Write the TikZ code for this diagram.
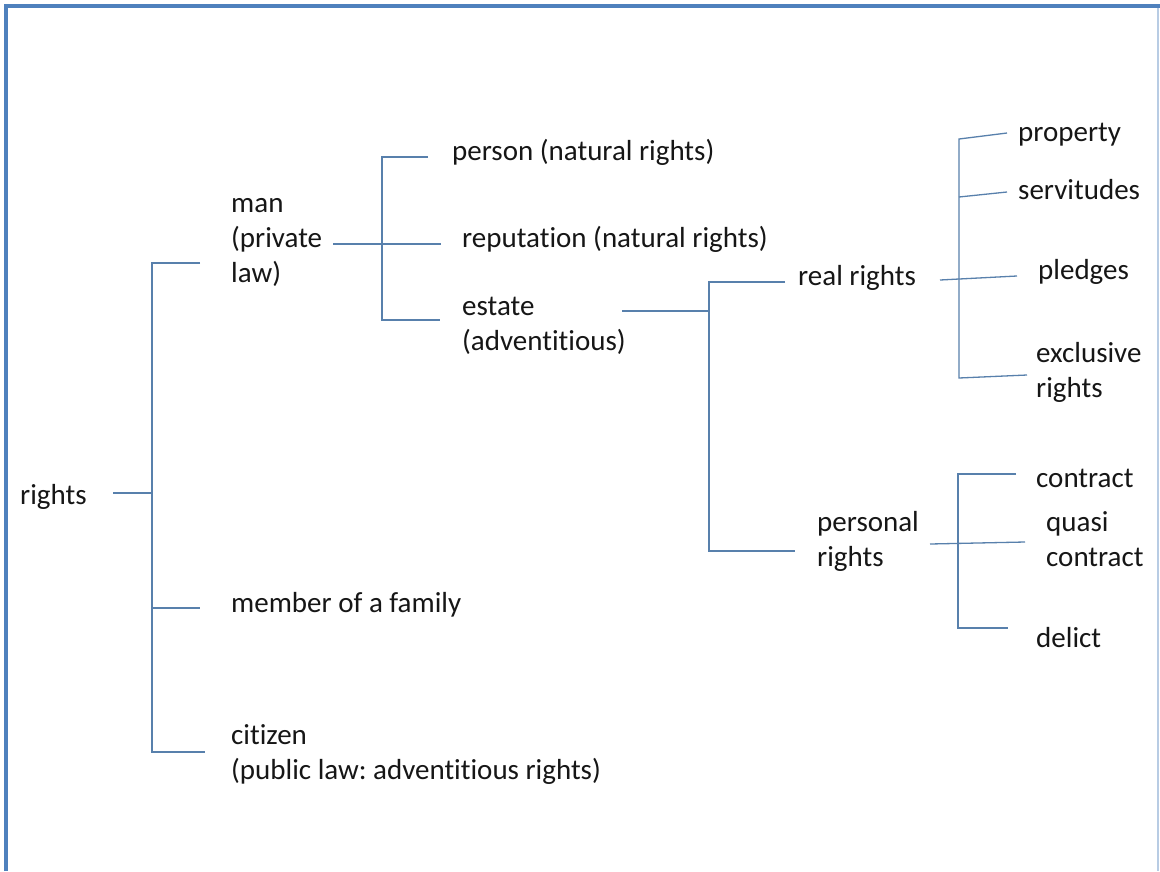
\documentclass[tikz,border=0pt]{standalone}
\usepackage{fontspec}
\setmainfont{Carlito}[Ligatures=CommonOff]
\definecolor{linkcol}{RGB}{88,128,172}
\definecolor{framecol}{RGB}{79,129,189}
\definecolor{framelight}{RGB}{184,204,228}
\definecolor{txtcol}{RGB}{22,22,22}
\frenchspacing
\begin{document}
\begin{tikzpicture}[x=1pt,y=-1pt,
  lbl/.style={anchor=west, inner sep=0pt, align=left, text=txtcol,
    font=\fontsize{29}{35}\selectfont,
    execute at begin node=\strut, execute at end node=\strut},
  link/.style={draw=linkcol, line width=1.3pt}]
\useasboundingbox (0,0) rectangle (1160,871);
\fill[white] (0,0) rectangle (1160,871);
% frame
\draw[framecol, line width=3.5pt] (6,871) -- (6,6) -- (1160,6);
\draw[framelight, line width=2.5pt] (1158,8) -- (1158,871);

% labels
\node[lbl] (rights) at (20,497) {rights};
\node[lbl] (man) at (231,246) {man\\(private\\law)};
\node[lbl] (member) at (231,605) {member of a family};
\node[lbl] (citizen) at (231,757) {citizen\\(public law: adventitious rights)};
\node[lbl] (person) at (452,153) {person (natural rights)};
\node[lbl] (reputation) at (462,240) {reputation (natural rights)};
\node[lbl] (estate) at (462,329) {estate\\(adventitious)};
\node[lbl] (real) at (798,278) {real rights};
\node[lbl] (personal) at (817,544) {personal\\rights};
\node[lbl] (property) at (1018,134) {property};
\node[lbl] (servitudes) at (1018,192) {servitudes};
\node[lbl] (pledges) at (1038,272) {pledges};
\node[lbl] (exclusive) at (1036,375) {exclusive\\rights};
\node[lbl] (contract) at (1036,480) {contract};
\node[lbl] (quasi) at (1046,544) {quasi\\contract};
\node[lbl] (delict) at (1036,640) {delict};

% junction coordinates
\coordinate (a0) at (113,493);
\coordinate (a1) at (152,493);
\coordinate (at) at (152,263);
\coordinate (am) at (152,608);
\coordinate (ab) at (152,752);
\coordinate (aman) at (200,263);
\coordinate (amem) at (200,608);
\coordinate (acit) at (205,752);

\coordinate (b0) at (333,244);
\coordinate (b1) at (382,244);
\coordinate (bt) at (382,157);
\coordinate (bb) at (382,320);
\coordinate (bper) at (428,157);
\coordinate (brep) at (441,244);
\coordinate (best) at (440,320);

\coordinate (c0) at (622,311);
\coordinate (c1) at (709,311);
\coordinate (ct) at (709,282);
\coordinate (cb) at (709,551);
\coordinate (creal) at (785,282);
\coordinate (cpers) at (795,551);

\coordinate (d0) at (940,280);
\coordinate (dt) at (959,139);
\coordinate (ds) at (959,197);
\coordinate (db) at (959,378);
\coordinate (dprop) at (1007,133);
\coordinate (dserv) at (1007,192);
\coordinate (dpled) at (1017,276);
\coordinate (dexcl) at (1027,375);

\coordinate (e0) at (930,544);
\coordinate (et) at (958,474);
\coordinate (eb) at (958,628);
\coordinate (econ) at (1016,474);
\coordinate (equa) at (1025,542);
\coordinate (edel) at (1008,628);

% connectors
\draw[link] (a0) -- (a1);
\draw[link] (aman) -- (at) -- (ab) -- (acit);
\draw[link] (am) -- (amem);

\draw[link] (b0) -- (b1);
\draw[link] (bper) -- (bt) -- (bb) -- (best);
\draw[link] (b1) -- (brep);

\draw[link] (c0) -- (c1);
\draw[link] (creal) -- (ct) -- (cb) -- (cpers);

\draw[link] (d0) -- (dpled);
\draw[link] (dprop) -- (dt) -- (db) -- (dexcl);
\draw[link] (ds) -- (dserv);

\draw[link] (e0) -- (equa);
\draw[link] (econ) -- (et) -- (eb) -- (edel);
\end{tikzpicture}
\end{document}
